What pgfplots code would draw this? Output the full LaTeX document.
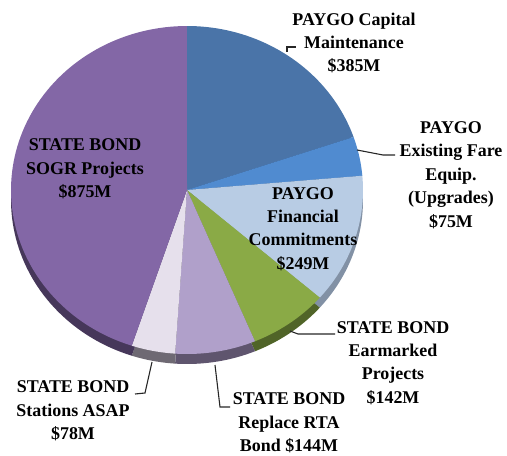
\documentclass[border=0pt]{standalone}
\usepackage{pgfplots}
\pgfplotsset{compat=1.18}
\usepackage{fontspec}
\setmainfont{Liberation Serif}
\definecolor{cCap}{RGB}{74,116,168}\definecolor{sCap}{RGB}{50,80,118}
\definecolor{cFare}{RGB}{80,139,208}\definecolor{sFare}{RGB}{55,95,145}
\definecolor{cFin}{RGB}{184,204,228}\definecolor{sFin}{RGB}{130,145,165}
\definecolor{cEar}{RGB}{138,170,70}\definecolor{sEar}{RGB}{80,100,40}
\definecolor{cRep}{RGB}{176,160,202}\definecolor{sRep}{RGB}{95,85,110}
\definecolor{cSta}{RGB}{230,224,236}\definecolor{sSta}{RGB}{110,105,115}
\definecolor{cSog}{RGB}{131,103,166}\definecolor{sSog}{RGB}{70,55,90}
% values ($M)
\def\vCap{385}\def\vFare{75}\def\vFin{249}\def\vEar{142}\def\vRep{144}\def\vSta{78}\def\vSog{875}
\pgfmathsetmacro\T{\vCap+\vFare+\vFin+\vEar+\vRep+\vSta+\vSog}
\pgfmathsetmacro\aA{90}
\pgfmathsetmacro\aB{\aA-360*(\vCap/\T)}
\pgfmathsetmacro\aC{\aB-360*(\vFare/\T)}
\pgfmathsetmacro\aD{\aC-360*(\vFin/\T)}
\pgfmathsetmacro\aE{\aD-360*(\vEar/\T)}
\pgfmathsetmacro\aF{\aE-360*(\vRep/\T)}
\pgfmathsetmacro\aG{\aF-360*(\vSta/\T)}
\pgfmathsetmacro\aH{\aG-360*(\vSog/\T)}
\def\cx{187}\def\cy{266}\def\rx{176}\def\ry{164}\def\dep{10}
\newcommand\pieWedge[4]{% color, from, to, yshift
  \addplot[fill=#1, draw=none, domain=#2:#3, samples=90, variable=\t]
    ({\cx+\rx*cos(\t)},{\cy-#4+\ry*sin(\t)}) -- (axis cs:\cx,\cy-#4) -- cycle;}
\begin{document}
\begin{tikzpicture}
\path[use as bounding box] (0,0) rectangle (507bp,456bp);
\begin{axis}[x=1bp,y=1bp,xmin=0,xmax=507,ymin=0,ymax=456,hide axis,
  anchor=origin,at={(0,0)},clip=false]
% side (depth)
\pieWedge{sCap}{\aB}{\aA}{\dep}
\pieWedge{sFare}{\aC}{\aB}{\dep}
\pieWedge{sFin}{\aD}{\aC}{\dep}
\pieWedge{sEar}{\aE}{\aD}{\dep}
\pieWedge{sRep}{\aF}{\aE}{\dep}
\pieWedge{sSta}{\aG}{\aF}{\dep}
\pieWedge{sSog}{\aH}{\aG}{\dep}
% top
\pieWedge{cCap}{\aB}{\aA}{0}
\pieWedge{cFare}{\aC}{\aB}{0}
\pieWedge{cFin}{\aD}{\aC}{0}
\pieWedge{cEar}{\aE}{\aD}{0}
\pieWedge{cRep}{\aF}{\aE}{0}
\pieWedge{cSta}{\aG}{\aF}{0}
\pieWedge{cSog}{\aH}{\aG}{0}
% leader lines
\draw[line width=1.1pt,black!85] (axis cs:287,404)--(axis cs:287,409)--(axis cs:296,409);
\draw[line width=1.1pt,black!85] (axis cs:357,306)--(axis cs:383,301)--(axis cs:395,301);
\draw[line width=1.1pt,black!85] (axis cs:290,125)--(axis cs:298,122)--(axis cs:335,122);
\draw[line width=1.1pt,black!85] (axis cs:215,91)--(axis cs:220,49)--(axis cs:230,49);
\draw[line width=1.1pt,black!85] (axis cs:152,94)--(axis cs:145,63)--(axis cs:135,62);
% labels
\tikzset{lab/.style={align=center,inner sep=0pt,font=\fontsize{18}{23.5}\selectfont\bfseries}}
\node[lab] at (axis cs:354,413) {PAYGO Capital\\Maintenance\\\$385M};
\node[lab] at (axis cs:451,281) {PAYGO\\Existing Fare\\Equip.\\(Upgrades)\\\$75M};
\node[lab] at (axis cs:303,227) {PAYGO\\Financial\\Commitments\\\$249M};
\node[lab] at (axis cs:393,93) {STATE BOND\\Earmarked\\Projects\\\$142M};
\node[lab] at (axis cs:289,33) {STATE BOND\\Replace RTA\\Bond \$144M};
\node[lab] at (axis cs:73,45) {STATE BOND\\Stations ASAP\\\$78M};
\node[lab] at (axis cs:85,287) {STATE BOND\\SOGR Projects\\\$875M};
\end{axis}
\end{tikzpicture}
\end{document}
